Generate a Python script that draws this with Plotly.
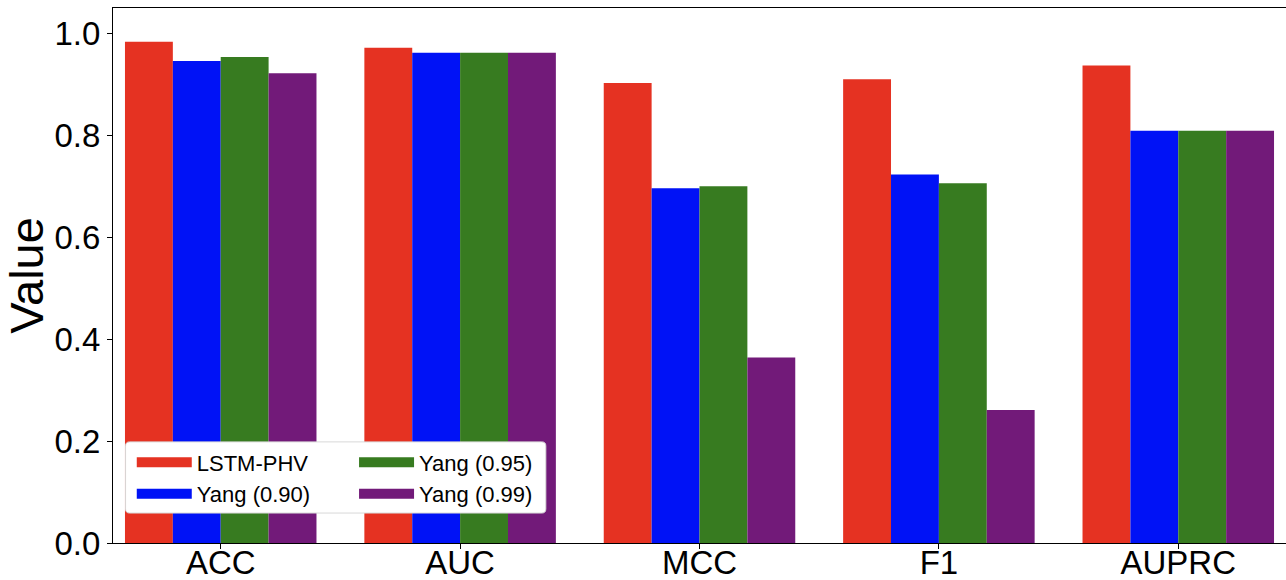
import plotly.graph_objects as go

categories = ["ACC", "AUC", "MCC", "F1", "AUPRC"]
series_names = ["LSTM-PHV", "Yang (0.90)", "Yang (0.95)", "Yang (0.99)"]
lstm_phv = [0.984, 0.972, 0.903, 0.910, 0.937]
yang_090 = [0.946, 0.962, 0.696, 0.723, 0.809]
yang_095 = [0.954, 0.962, 0.700, 0.706, 0.809]
yang_099 = [0.922, 0.962, 0.364, 0.261, 0.809]
y_ticks = [0.0, 0.2, 0.4, 0.6, 0.8, 1.0]

colors = ["#E53222", "#0012F6", "#377B20", "#721A79"]
values = [lstm_phv, yang_090, yang_095, yang_099]
legend_ids = ["legend", "legend", "legend2", "legend2"]

fig = go.Figure()
for name, vals, col in zip(series_names, values, colors):
    fig.add_trace(go.Bar(x=categories, y=vals, name=name, marker_color=col,
                         marker_line_width=0, showlegend=False))
for name, col, lg in zip(series_names, colors, legend_ids):
    fig.add_trace(go.Scatter(x=[None], y=[None], mode="lines", name=name,
                             line=dict(color=col, width=15), legend=lg))

# legend frame (paper coords), rounded corners
x0, x1, y0, y1 = 0.0107, 0.369, 0.056, 0.189
rx, ry = 0.0034, 0.0075
frame_path = (f"M{x0+rx},{y0} L{x1-rx},{y0} Q{x1},{y0} {x1},{y0+ry} "
              f"L{x1},{y1-ry} Q{x1},{y1} {x1-rx},{y1} L{x0+rx},{y1} "
              f"Q{x0},{y1} {x0},{y1-ry} L{x0},{y0+ry} Q{x0},{y0} {x0+rx},{y0} Z")

FONT = "Liberation Sans, Arial, sans-serif"
leg_common = dict(xanchor="left", yanchor="top", bgcolor="rgba(0,0,0,0)", borderwidth=0,
                  font=dict(size=22, family=FONT), tracegroupgap=0, traceorder="normal",
                  orientation="v", itemwidth=55)
fig.update_layout(
    width=1286, height=580,
    margin=dict(l=113, r=0, t=8, b=37, autoexpand=False),
    plot_bgcolor="white", paper_bgcolor="white",
    barmode="group", bargap=0.2, bargroupgap=0,
    font=dict(family=FONT, color="black"),
    legend=dict(x=0.016, y=0.19, **leg_common),
    legend2=dict(x=0.2055, y=0.19, **leg_common),
    shapes=[dict(type="path", xref="paper", yref="paper", path=frame_path,
                 fillcolor="white", line=dict(color="#D8D8D8", width=1), layer="above")],
    xaxis=dict(range=[-0.45, 4.45], showline=True, linecolor="black", linewidth=1,
               mirror=True, ticks="outside", ticklen=5, tickcolor="black",
               tickfont=dict(size=33, family=FONT), showgrid=False, automargin=False,
               ticklabelstandoff=-15),
    yaxis=dict(range=[0, 1.05], tickvals=y_ticks, ticktext=[f"{v:.1f}" for v in y_ticks],
               showline=True, linecolor="black", linewidth=1, mirror=False,
               ticks="outside", ticklen=5, tickcolor="black",
               tickfont=dict(size=33, family=FONT), showgrid=False, zeroline=False,
               title=dict(text="Value", font=dict(size=47, family=FONT), standoff=8),
               automargin=False),
)
fig.write_html("out.html", config={"displayModeBar": False},
               post_script="document.body.style.margin='0';document.body.style.padding='0';")
